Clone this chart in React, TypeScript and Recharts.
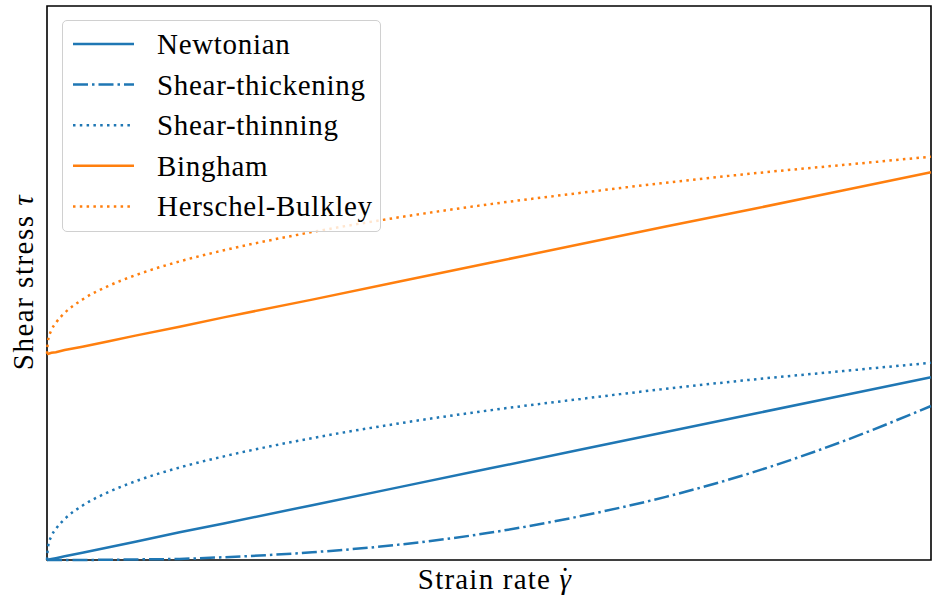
import React from 'react'
import { LineChart, Line, XAxis, YAxis, ReferenceArea } from 'recharts'

// strain rate (fraction of full range) and stress values
const strainRate = [0, 0.001, 0.005, 0.01, 0.02, 0.04, 0.07, 0.1, 0.15, 0.2, 0.3, 0.4, 0.5, 0.6, 0.7, 0.8, 0.9, 1.0]
const newtonian = [0, 0.003, 0.017, 0.033, 0.066, 0.13, 0.23, 0.33, 0.5, 0.66, 0.99, 1.32, 1.65, 1.98, 2.31, 2.64, 2.97, 3.3]
const shearThickening = [0, 0, 0, 0, 0, 0.001, 0.004, 0.01, 0.02, 0.05, 0.14, 0.28, 0.49, 0.78, 1.14, 1.59, 2.14, 2.78]
const shearThinning = [0, 0.22, 0.43, 0.56, 0.74, 0.98, 1.23, 1.42, 1.67, 1.87, 2.2, 2.47, 2.7, 2.9, 3.09, 3.26, 3.41, 3.56]
const bingham = [3.72, 3.72, 3.74, 3.75, 3.79, 3.85, 3.95, 4.05, 4.21, 4.38, 4.7, 5.03, 5.36, 5.69, 6.02, 6.34, 6.67, 7.0]
const herschelBulkley = [3.72, 3.94, 4.15, 4.28, 4.46, 4.7, 4.95, 5.14, 5.39, 5.59, 5.92, 6.19, 6.42, 6.62, 6.81, 6.98, 7.13, 7.28]

const BLUE = '#1f77b4'
const ORANGE = '#ff7f0e'
const FONT = '"Liberation Serif", "Times New Roman", serif'

const series = [
  { key: 'newtonian', name: 'Newtonian', color: BLUE, dash: undefined, curve: 'linear' },
  { key: 'thick', name: 'Shear-thickening', color: BLUE, dash: '15 4 2.5 4', curve: 'monotone' },
  { key: 'thin', name: 'Shear-thinning', color: BLUE, dash: '2.5 4.3', curve: 'monotone' },
  { key: 'bingham', name: 'Bingham', color: ORANGE, dash: undefined, curve: 'linear' },
  { key: 'hb', name: 'Herschel-Bulkley', color: ORANGE, dash: '2.5 4.3', curve: 'monotone' },
]

const data = strainRate.map((x, i) => ({
  x,
  newtonian: newtonian[i],
  thick: shearThickening[i],
  thin: shearThinning[i],
  bingham: bingham[i],
  hb: herschelBulkley[i],
}))

function LegendBox() {
  return (
    <div
      style={{
        position: 'absolute',
        left: 62,
        top: 20,
        width: 317,
        height: 210,
        border: '1.5px solid #d0d0d0',
        borderRadius: 5,
        background: 'rgba(255,255,255,0.8)',
      }}
    >
      <svg width={317} height={210}>
        {series.map((s, i) => {
          const y = 23 + i * 40.6
          return (
            <g key={s.key}>
              <line
                x1={10}
                x2={71}
                y1={y}
                y2={y}
                stroke={s.color}
                strokeWidth={2.5}
                strokeDasharray={s.dash}
              />
              <text x={94} y={y + 10} fontFamily={FONT} fontSize={29} letterSpacing={0.7} fill="#000">
                {s.name}
              </text>
            </g>
          )
        })}
      </svg>
    </div>
  )
}

export default function App() {
  return (
    <div style={{ position: 'absolute', left: 0, top: 0, width: 932, height: 596, background: '#fff' }}>
      <LineChart width={932} height={596} data={data} margin={{ top: 6, right: 1, bottom: 36, left: 47 }}>
        <XAxis dataKey="x" type="number" domain={[0, 1]} hide />
        <YAxis type="number" domain={[0, 10]} hide />
        {series.map((s) => (
          <Line
            key={s.key}
            dataKey={s.key}
            name={s.name}
            type={s.curve as any}
            stroke={s.color}
            strokeWidth={2.5}
            strokeDasharray={s.dash}
            dot={false}
            activeDot={false}
            isAnimationActive={false}
          />
        ))}
        <ReferenceArea x1={0} x2={1} y1={0} y2={10} fill="none" stroke="#000" strokeWidth={1.6} ifOverflow="visible" />
      </LineChart>
      <svg width={932} height={596} style={{ position: 'absolute', left: 0, top: 0, pointerEvents: 'none' }}>
        <text x={495} y={589} textAnchor="middle" fontFamily={FONT} fontSize={29} letterSpacing={1.2} fill="#000">
          Strain rate <tspan fontStyle="italic">γ</tspan>
          <tspan dx={-12} dy={-1}>˙</tspan>
        </text>
        <text
          transform="translate(33,282) rotate(-90)"
          textAnchor="middle"
          fontFamily={FONT}
          fontSize={29}
          letterSpacing={1.5}
          fill="#000"
        >
          Shear stress <tspan fontStyle="italic">τ</tspan>
        </text>
      </svg>
      <LegendBox />
    </div>
  )
}
